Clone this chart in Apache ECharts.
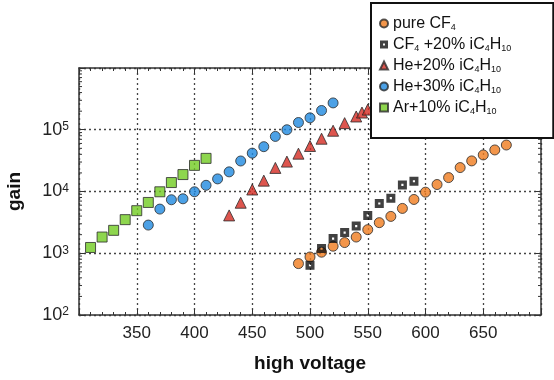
<!DOCTYPE html>
<html><head><meta charset="utf-8">
<script src="https://cdn.jsdelivr.net/npm/echarts@6/dist/echarts.min.js"></script>
<style>html,body{margin:0;padding:0;background:#fff}#c{width:554px;height:380px}</style>
</head><body><div id="c"></div><script>
// ---- data ----
const seriesNames = ['pure CF4', 'CF4 +20% iC4H10', 'He+20% iC4H10', 'He+30% iC4H10', 'Ar+10% iC4H10'];
const pureCF4_V = [490,500,510,520,530,540,550,560,570,580,590,600,610,620,630,640,650,660,670];
const pureCF4_G = [680,870,1040,1300,1490,1830,2410,3130,3950,5320,7430,9750,12970,16800,24400,31300,39100,47100,56600];
const cf4Iso_V = [500,510,520,530,540,550,560,570,580,590];
const cf4Iso_G = [640,1190,1730,2160,2750,4100,6400,7800,12800,14650];
const he20_V = [430,440,450,460,470,480,490,500,510,520,530,540,545,550];
const he20_G = [4100,6580,10770,15000,24100,30500,41000,54600,71600,96400,128000,164000,190000,212000];
const he30_V = [360,370,380,390,400,410,420,430,440,450,460,470,480,490,500,510,520];
const he30_G = [2860,5190,7350,7620,9890,12600,16000,20800,31200,41800,53200,78000,100000,131000,156000,205000,272000];
const ar10_V = [310,320,330,340,350,360,370,380,390,400,410];
const ar10_G = [1240,1830,2350,3500,4890,6650,9890,13960,18800,26500,34400];
const xTickLabels = [350,400,450,500,550,600,650];
const yTickExponents = [2,3,4,5];

// ---- helpers ----
const FONT = 'Liberation Sans, Arial, sans-serif';
const zip = (a, b) => a.map((v, i) => [v, b[i]]);
const minorVals = [];
for (let e = 2; e < 6; e++) for (let m = 2; m <= 9; m++) minorVals.push([300, m * Math.pow(10, e)]);

const richName = {
  'pure CF4': 'pure CF{sub|4}',
  'CF4 +20% iC4H10': 'CF{sub|4} +20% iC{sub|4}H{sub|10}',
  'He+20% iC4H10': 'He+20% iC{sub|4}H{sub|10}',
  'He+30% iC4H10': 'He+30% iC{sub|4}H{sub|10}',
  'Ar+10% iC4H10': 'Ar+10% iC{sub|4}H{sub|10}'
};
const holeSquare = 'path://M0,0L10,0L10,10L0,10Z M3.8,3.8L3.8,6.2L6.2,6.2L6.2,3.8Z';
const edge = {borderColor: '#2a2a2a', borderWidth: 1};

const chart = echarts.init(document.getElementById('c'));
const gridLine = {show: true, lineStyle: {color: '#444', width: 1.3, type: [2, 3]}};
chart.setOption({
  animation: false,
  backgroundColor: '#fff',
  grid: {left: 79, right: 13, top: 68, bottom: 65, outerBoundsMode: 'none'},
  xAxis: [{
    type: 'value', min: 300, max: 700, interval: 50,
    axisLine: {show: true, onZero: false, lineStyle: {color: '#333', width: 1.5}},
    axisTick: {show: true, inside: true, length: 6, lineStyle: {color: '#333'}},
    minorTick: {show: true, splitNumber: 5, length: 3, lineStyle: {color: '#333'}},
    splitLine: gridLine,
    axisLabel: {
      margin: 10, color: '#222', fontSize: 17, fontFamily: FONT,
      showMinLabel: false, showMaxLabel: false,
      formatter: v => xTickLabels.includes(v) ? String(v) : ''
    },
    name: 'high voltage', nameLocation: 'middle', nameGap: 39,
    nameTextStyle: {fontSize: 19, fontWeight: 'bold', color: '#111', fontFamily: FONT}
  }, {
    type: 'value', min: 300, max: 700, interval: 50, position: 'top',
    axisLine: {show: true, onZero: false, lineStyle: {color: '#333', width: 1.5}},
    axisTick: {show: true, inside: true, length: 6, lineStyle: {color: '#333'}},
    minorTick: {show: true, splitNumber: 5, length: 3, lineStyle: {color: '#333'}},
    splitLine: {show: false}, axisLabel: {show: false}
  }],
  yAxis: [{
    type: 'log', logBase: 10, min: 100, max: 1000000,
    axisLine: {show: true, onZero: false, lineStyle: {color: '#333', width: 1.5}},
    axisTick: {show: true, inside: true, length: 6, lineStyle: {color: '#333'}},
    splitLine: gridLine,
    axisLabel: {
      margin: 10, color: '#222', fontFamily: FONT,
      formatter: v => {
        const e = Math.round(Math.log10(v));
        return yTickExponents.includes(e) ? '{b|10}{s|' + e + '}' : '';
      },
      rich: {
        b: {fontSize: 18, fontFamily: FONT, color: '#222'},
        s: {fontSize: 12, fontFamily: FONT, color: '#222', verticalAlign: 'top'}
      }
    },
    name: 'gain', nameLocation: 'middle', nameGap: 55, nameRotate: 90,
    nameTextStyle: {fontSize: 19, fontWeight: 'bold', color: '#111', fontFamily: FONT}
  }, {
    type: 'log', logBase: 10, min: 100, max: 1000000, position: 'right',
    axisLine: {show: true, onZero: false, lineStyle: {color: '#333', width: 1.5}},
    axisTick: {show: true, inside: true, length: 6, lineStyle: {color: '#333'}},
    splitLine: {show: false}, axisLabel: {show: false}
  }],
  legend: {
    orient: 'vertical', left: 371, top: 3,
    padding: [12, 42, 22, 8],
    backgroundColor: '#fff', borderColor: '#111', borderWidth: 2, borderRadius: 0,
    itemWidth: 8, itemHeight: 8, itemGap: 4,
    data: seriesNames,
    textStyle: {
      fontSize: 16, fontFamily: FONT, color: '#111', lineHeight: 17,
      rich: {sub: {fontSize: 9, fontFamily: FONT, color: '#111', verticalAlign: 'bottom'}}
    },
    formatter: n => richName[n]
  },
  series: [
    {type: 'custom', silent: true, xAxisIndex: 0, yAxisIndex: 0, data: minorVals, z: 1,
      renderItem: (params, api) => {
        const cs = params.coordSys;
        const y = api.coord([300, api.value(1)])[1];
        return {type: 'group', children: [
          {type: 'line', shape: {x1: cs.x, y1: y, x2: cs.x + 3, y2: y}, style: {stroke: '#333', lineWidth: 1}},
          {type: 'line', shape: {x1: cs.x + cs.width, y1: y, x2: cs.x + cs.width - 3, y2: y}, style: {stroke: '#333', lineWidth: 1}}
        ]};
      }},
    {name: seriesNames[0], type: 'scatter', data: zip(pureCF4_V, pureCF4_G), symbol: 'circle', symbolSize: 10,
      itemStyle: Object.assign({color: '#f07c1e'}, edge)},
    {name: seriesNames[1], type: 'scatter', data: zip(cf4Iso_V, cf4Iso_G), symbol: holeSquare, symbolSize: 9,
      itemStyle: {color: '#111'}},
    {name: seriesNames[2], type: 'scatter', data: zip(he20_V, he20_G), symbol: 'triangle', symbolSize: 11,
      itemStyle: Object.assign({color: '#d42a22'}, edge)},
    {name: seriesNames[3], type: 'scatter', data: zip(he30_V, he30_G), symbol: 'circle', symbolSize: 10,
      itemStyle: Object.assign({color: '#1f8ae0'}, edge)},
    {name: seriesNames[4], type: 'scatter', data: zip(ar10_V, ar10_G), symbol: 'rect', symbolSize: 10,
      itemStyle: Object.assign({color: '#72cc22'}, edge)}
  ]
});
</script></body></html>
